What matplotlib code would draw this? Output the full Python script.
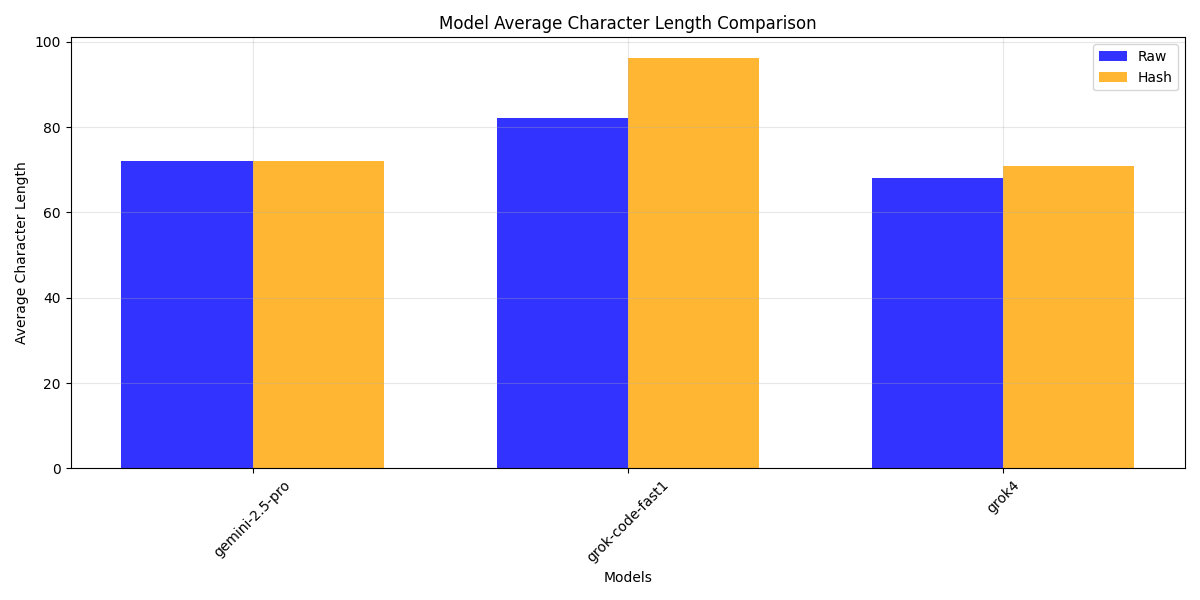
import matplotlib
matplotlib.use('Agg')
import matplotlib.pyplot as plt
import numpy as np

# Data
models = ['gemini-2.5-pro', 'grok-code-fast1', 'grok4']
raw_lengths = [72.0, 82.0, 68.0]
hash_lengths = [72.0, 96.2, 70.8]

x = np.arange(len(models))
width = 0.35

fig, ax = plt.subplots(figsize=(12, 6), dpi=100)
ax.bar(x - width / 2, raw_lengths, width, label='Raw', color='blue', alpha=0.8)
ax.bar(x + width / 2, hash_lengths, width, label='Hash', color='orange', alpha=0.8)

ax.set_xlabel('Models')
ax.set_ylabel('Average Character Length')
ax.set_title('Model Average Character Length Comparison')
ax.set_xticks(x)
ax.set_xticklabels(models, rotation=45)
ax.legend()
ax.grid(True, alpha=0.3)

plt.tight_layout()
plt.savefig('out.png')
